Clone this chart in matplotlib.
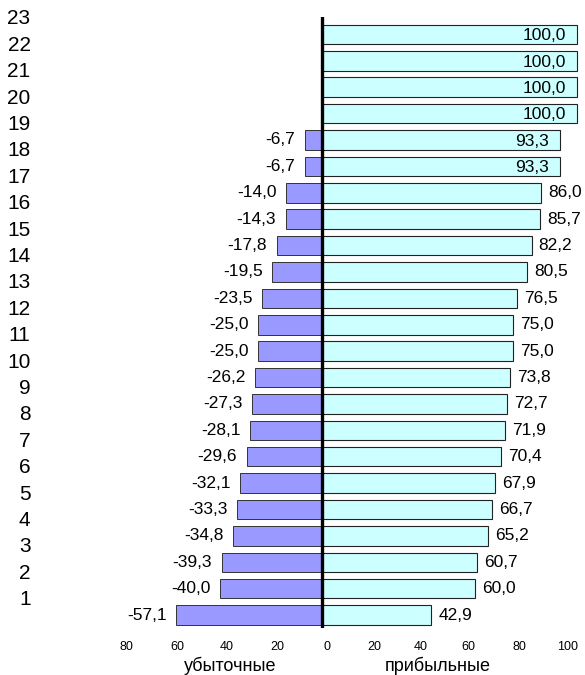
import matplotlib
matplotlib.use("Agg")
import matplotlib.pyplot as plt
import matplotlib.transforms as mtransforms
import numpy as np

plt.rcParams['font.family'] = ['Liberation Sans', 'DejaVu Sans']

# bottom bar first
profit = [42.9, 60.0, 60.7, 65.2, 66.7, 67.9, 70.4, 71.9, 72.7, 73.8, 75.0, 75.0,
          76.5, 80.5, 82.2, 85.7, 86.0, 93.3, 93.3, 100.0, 100.0, 100.0, 100.0]
loss = [-57.1, -40.0, -39.3, -34.8, -33.3, -32.1, -29.6, -28.1, -27.3, -26.2, -25.0, -25.0,
        -23.5, -19.5, -17.8, -14.3, -14.0, -6.7, -6.7, None, None, None, None]
row_labels = [str(i) for i in range(1, 24)]
# the original chart draws its scale labels slightly off the true values
xtick_pos = [-76.5, -56.9, -37.3, -17.6, 2.0, 20.4, 38.8, 57.3, 77.3, 96.5]
xtick_labels = ['80', '60', '40', '20', '0', '20', '40', '60', '80', '100']

fig = plt.figure(figsize=(5.85, 6.75), dpi=100)
ax = fig.add_axes([100 / 585, 1 - 628 / 675, 480 / 585, 611 / 675])

y = np.arange(len(profit))
loss_vals = [v if v is not None else 0 for v in loss]

ax.barh(y, profit, height=0.74, color='#CCFFFF', edgecolor='#222222', linewidth=0.8)
mask = [v is not None for v in loss]
ax.barh(y[mask], np.array(loss_vals)[mask], height=0.74, color='#9999FF',
        edgecolor='#333333', linewidth=0.7)

ax.axvline(0, color='black', linewidth=2.4, zorder=5)

ax.set_xlim(-87.06, 101.2)
ax.set_ylim(-0.49, 22.57)

# value labels
for yi, v in zip(y, profit):
    txt = ('%.1f' % v).replace('.', ',')
    if v >= 90:
        ax.annotate(txt, (v, yi), xytext=(-8, -1), textcoords='offset points',
                    ha='right', va='center', fontsize=12.5)
    else:
        ax.annotate(txt, (v, yi), xytext=(5, 0), textcoords='offset points',
                    ha='left', va='center', fontsize=12.5)
for yi, v in zip(y, loss):
    if v is None:
        continue
    txt = ('%.1f' % v).replace('.', ',')
    ax.annotate(txt, (v, yi), xytext=(-7, 0), textcoords='offset points',
                ha='right', va='center', fontsize=12.5)

ax.set_yticks(y + 0.66)
ax.set_yticklabels(row_labels, fontsize=15)
ax.set_xticks(xtick_pos)
ax.set_xticklabels(xtick_labels, fontsize=9)
ax.tick_params(axis='y', length=0, pad=50)
ax.tick_params(axis='x', length=0, pad=9)

for s in ax.spines.values():
    s.set_visible(False)

trans = mtransforms.blended_transform_factory(ax.transData, fig.transFigure)
ax.text(-36, 1 - 666 / 675, 'убыточные', transform=trans, ha='center', va='center', fontsize=13)
ax.text(45.5, 1 - 666 / 675, 'прибыльные', transform=trans, ha='center', va='center', fontsize=13)

fig.savefig('out.png', dpi=100)
